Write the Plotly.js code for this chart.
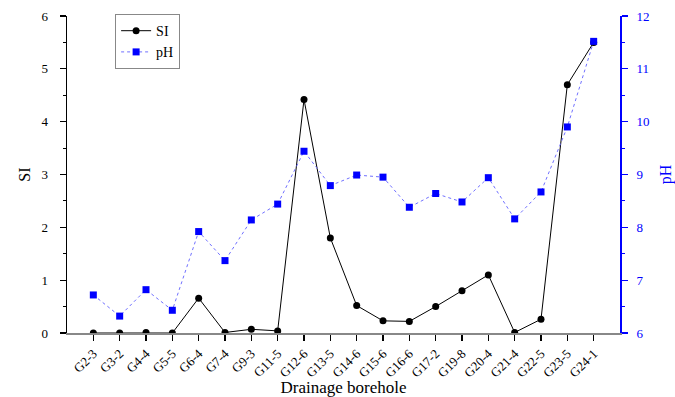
<!DOCTYPE html>
<html>
<head>
<meta charset="utf-8">
<script src="https://cdn.plot.ly/plotly-3.0.1.min.js"></script>
<style>html,body{margin:0;padding:0;background:#fff;}#chart{width:675px;height:397px;}</style>
</head>
<body>
<div id="chart"></div>
<script>
const boreholes = ["G2-3","G3-2","G4-4","G5-5","G6-4","G7-4","G9-3","G11-5","G12-6","G13-5","G14-6","G15-6","G16-6","G17-2","G19-8","G20-4","G21-4","G22-5","G23-5","G24-1"];
const siValues = [0.0, 0.0, 0.01, 0.0, 0.66, 0.01, 0.07, 0.04, 4.42, 1.8, 0.52, 0.23, 0.22, 0.5, 0.8, 1.1, 0.01, 0.26, 4.7, 5.5];
const phValues = [6.72, 6.32, 6.82, 6.43, 7.92, 7.37, 8.14, 8.44, 9.44, 8.79, 8.99, 8.95, 8.38, 8.64, 8.48, 8.94, 8.16, 8.67, 9.9, 11.52];
const siTicks = [0,1,2,3,4,5,6];
const phTicks = [6,7,8,9,10,11,12];

const font = "Liberation Serif, Times New Roman, serif";

const traces = [
  {
    x: boreholes, y: siValues, name: "SI", type: "scatter", mode: "lines+markers",
    line: {color: "#000000", width: 1},
    marker: {symbol: "circle", size: 7, color: "#000000"},
    yaxis: "y"
  },
  {
    x: boreholes, y: phValues, name: "pH", type: "scatter", mode: "lines+markers",
    line: {color: "#7070ff", width: 1, dash: "dot"},
    marker: {symbol: "square", size: 7, color: "#0000ff"},
    yaxis: "y2"
  }
];

const layout = {
  width: 675, height: 397,
  margin: {l: 67, r: 55, t: 16, b: 64},
  paper_bgcolor: "#ffffff", plot_bgcolor: "#ffffff",
  font: {family: font, color: "#000000", size: 13},
  showlegend: true,
  legend: {
    x: 0.087, y: 1.006, xanchor: "left", yanchor: "top",
    bgcolor: "#ffffff", bordercolor: "#888888", borderwidth: 1,
    font: {family: font, size: 14, color: "#000000"},
    tracegroupgap: 0, itemwidth: 30
  },
  xaxis: {
    type: "category", categoryorder: "array", categoryarray: boreholes,
    range: [-1, 20],
    showgrid: false, zeroline: false,
    showline: true, linecolor: "#888888", linewidth: 2,
    ticks: "outside", ticklen: 6, tickwidth: 1.5, tickcolor: "#000000",
    tickangle: -45, tickfont: {family: font, size: 13, color: "#000000"},
    title: {text: "Drainage borehole", font: {family: font, size: 17, color: "#000000"}, standoff: 4}
  },
  yaxis: {
    range: [0, 6], tickvals: siTicks,
    showgrid: false, zeroline: false,
    showline: true, linecolor: "#000000", linewidth: 1.5,
    ticks: "outside", ticklen: 6, tickwidth: 1.2, tickcolor: "#000000",
    ticklabelstandoff: 9,
    minor: {dtick: 0.5, ticks: "outside", ticklen: 3, tickcolor: "#000000", tickwidth: 1},
    tickfont: {family: font, size: 13, color: "#000000"},
    title: {text: "SI", font: {family: font, size: 16, color: "#000000"}, standoff: 7}
  },
  yaxis2: {
    overlaying: "y", side: "right", anchor: "x",
    range: [6, 12], tickvals: phTicks,
    showgrid: false, zeroline: false,
    showline: true, linecolor: "#0000ff", linewidth: 2,
    ticks: "outside", ticklen: 6, tickwidth: 1.2, tickcolor: "#0000ff",
    ticklabelstandoff: 6,
    minor: {dtick: 0.5, ticks: "outside", ticklen: 3, tickcolor: "#0000ff", tickwidth: 1},
    tickfont: {family: font, size: 13, color: "#0000ff"},
    title: {text: "pH", font: {family: font, size: 16, color: "#0000ff"}, standoff: 12}
  }
};

Plotly.newPlot("chart", traces, layout, {displayModeBar: false, staticPlot: true});
</script>
</body>
</html>
